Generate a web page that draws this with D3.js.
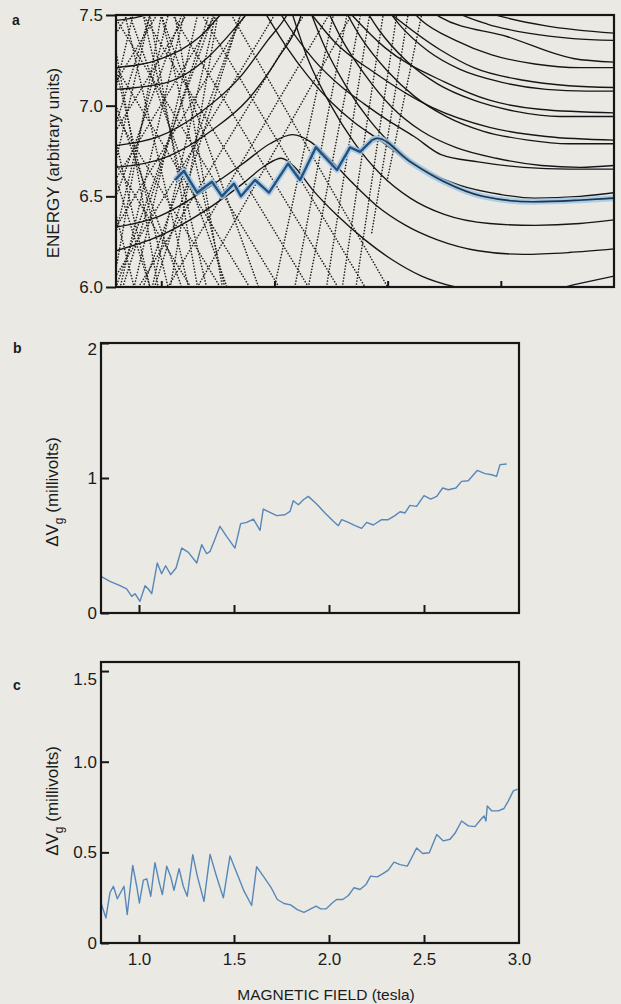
<!DOCTYPE html>
<html><head><meta charset="utf-8">
<script src="https://cdn.jsdelivr.net/npm/d3@7"></script>
<style>
html,body{margin:0;padding:0;background:#eae9e4;}
svg{display:block;}
text{font-family:"Liberation Sans",Arial,Helvetica,sans-serif;fill:#1b1b1b;}
</style></head><body>
<svg id="fig" width="621" height="1004"></svg>
<script>
// ---------- data ----------
const fieldTicks = [1.0, 1.5, 2.0, 2.5];
const fieldTickLabels = [1.0, 1.5, 2.0, 2.5, 3.0];
const energyTicks = [6.0, 6.5, 7.0, 7.5];
const gateTicksB = [0, 1, 2];
const gateTicksC = [0, 0.5, 1.0, 1.5];

// (a) lowest-Landau-level states (solid), [field, energy] points
const levelsSolid = [
  [[0.80,7.47],[0.90,7.49],[1.00,7.53]],
  [[0.80,7.21],[1.00,7.26],[1.17,7.38],[1.26,7.50],[1.30,7.56]],
  [[0.80,7.09],[1.03,7.13],[1.20,7.26],[1.32,7.42],[1.38,7.51],[1.41,7.56]],
  [[0.80,6.78],[0.99,6.83],[1.17,6.96],[1.35,7.16],[1.47,7.36],[1.555,7.50],[1.58,7.56]],
  [[0.80,6.66],[1.03,6.72],[1.23,6.87],[1.38,7.03],[1.52,7.27],[1.61,7.47],[1.63,7.55]],
  [[0.80,6.33],[0.99,6.39],[1.21,6.55],[1.36,6.68],[1.48,6.79],[1.58,6.84],[1.66,6.80],[1.74,6.71],
   [1.84,6.58],[1.95,6.45],[2.08,6.34],[2.22,6.26],[2.40,6.20],[2.60,6.18],[2.80,6.19],[3.00,6.21]],
  [[0.80,6.20],[0.99,6.28],[1.18,6.41],[1.36,6.57],[1.46,6.67],[1.53,6.71],[1.59,6.66],[1.666,6.54],
   [1.781,6.39],[1.90,6.26],[2.02,6.15],[2.15,6.06],[2.30,6.00],[2.50,5.97],[2.70,5.98],[2.85,6.02],[3.00,6.06]],
  [[1.55,7.62],[1.65,7.25],[1.75,7.00],[1.85,6.80],[1.97,6.62],[2.10,6.49],[2.25,6.40],[2.45,6.35],[2.65,6.34],[2.85,6.35],[3.00,6.37]],
  [[1.62,7.65],[1.72,7.33],[1.82,7.10],[1.92,6.92],[2.04,6.76],[2.17,6.64],[2.32,6.56],[2.50,6.51],[2.65,6.49],[2.85,6.50],[3.00,6.52]],
  [[1.70,7.62],[1.80,7.36],[1.90,7.17],[2.02,6.99],[2.15,6.86],[2.30,6.77],[2.48,6.71],[2.68,6.67],[2.85,6.66],[3.00,6.67]],
  [[1.78,7.60],[1.88,7.38],[2.00,7.19],[2.12,7.05],[2.26,6.94],[2.42,6.86],[2.62,6.81],[2.80,6.79],[3.00,6.79]],
  [[1.86,7.62],[1.96,7.42],[2.08,7.25],[2.22,7.12],[2.38,7.03],[2.56,6.97],[2.76,6.94],[3.00,6.94]],
  [[1.94,7.64],[2.05,7.45],[2.18,7.30],[2.32,7.20],[2.50,7.13],[2.70,7.09],[2.88,7.08],[3.00,7.08]],
  [[2.04,7.62],[2.15,7.47],[2.30,7.36],[2.46,7.28],[2.65,7.23],[2.85,7.21],[3.00,7.21]],
  [[2.14,7.66],[2.28,7.53],[2.44,7.45],[2.62,7.40],[2.82,7.37],[3.00,7.36]],
  [[1.45,7.53],[1.55,7.33],[1.65,7.16],[1.75,7.02],[1.85,6.91],[1.953,6.82],[2.10,6.69],[2.25,6.58],[2.42,6.50],[2.64,6.47],[2.86,6.48],[3.00,6.49]],
  [[1.50,7.56],[1.53,7.50],[1.676,7.25],[1.80,7.10],[1.896,7.01],[2.00,6.92],[2.117,6.83],[2.236,6.73],[2.40,6.69],[2.60,6.66],[2.80,6.65],[3.00,6.65]],
  [[1.64,7.54],[1.666,7.50],[1.767,7.35],[1.944,7.18],[2.196,6.99],[2.45,6.88],[2.70,6.83],[3.00,6.81]],
  [[1.82,7.53],[1.842,7.50],[1.988,7.32],[2.253,7.13],[2.45,7.03],[2.67,6.98],[3.00,6.96]],
  [[1.98,7.54],[2.00,7.52],[2.23,7.31],[2.38,7.21],[2.60,7.14],[2.80,7.11],[3.00,7.10]],
  [[2.20,7.52],[2.23,7.49],[2.53,7.38],[2.82,7.26],[3.00,7.24]],
  [[2.40,7.53],[2.45,7.51],[2.70,7.44],[3.00,7.40]]
];

// (a) higher-Landau-level states (dotted)
const levelsDotted = [
  [[0.12,6.0],[0.85,7.5]],[[0.25,6.0],[0.98,7.5]],[[0.38,6.0],[1.11,7.5]],
  [[0.51,6.0],[1.24,7.5]],[[0.64,6.0],[1.37,7.5]],[[0.77,6.0],[1.50,7.5]],
  [[0.90,6.0],[1.63,7.5]],[[1.03,6.0],[1.74,7.5]],[[1.16,6.0],[1.84,7.5]],
  [[0.40,7.5],[1.13,6.0]],[[0.53,7.5],[1.26,6.0]],[[0.66,7.5],[1.39,6.0]],
  [[0.79,7.5],[1.52,6.0]],[[0.92,7.5],[1.65,6.0]],[[1.05,7.5],[1.78,6.0]],
  [[1.18,7.5],[1.90,6.0]],[[1.31,7.5],[2.00,6.0]],
  [[1.50,6.0],[1.76,7.5]],[[1.59,6.0],[1.82,7.5]],[[1.65,6.0],[1.88,7.5]],
  [[1.73,6.0],[1.92,7.5]],[[1.80,6.0],[1.98,7.5]],[[1.86,6.0],[2.04,7.5]],
  [[1.93,6.3],[2.09,7.5]],[[2.00,6.6],[2.15,7.5]],
  [[0.80,7.1],[0.875,7.5]],[[0.80,6.7],[0.95,7.5]],[[0.80,6.3],[1.03,7.5]],
  [[0.80,5.9],[1.10,7.5]],[[0.88,6.0],[1.16,7.5]],[[0.96,6.0],[1.24,7.5]],
  [[0.80,6.4],[0.88,6.0]],[[0.80,6.8],[0.95,6.0]],[[0.80,7.2],[1.03,6.0]],
  [[0.84,7.5],[1.12,6.0]],[[0.92,7.5],[1.20,6.0]],[[1.00,7.5],[1.28,6.0]],
  [[0.80,6.5],[1.09,7.5]],[[0.80,6.0],[1.23,7.5]],[[0.92,6.0],[1.35,7.5]],
  [[0.80,7.0],[1.09,6.0]],[[0.86,7.5],[1.29,6.0]],[[1.00,7.5],[1.43,6.0]],
  [[0.80,6.9],[0.95,7.5]],[[0.83,6.0],[1.21,7.5]],[[0.97,6.0],[1.35,7.5]],
  [[0.80,6.6],[0.95,6.0]],[[0.80,7.3],[0.986,6.0]],[[0.95,7.5],[1.16,6.0]],
  [[0.80,6.1],[1.00,7.5]],[[1.04,6.0],[1.25,7.5]],[[1.06,7.5],[1.27,6.0]]
];

// (a) energy of the N-th electron
const nthLevel = [[1.061,6.59],[1.10,6.64],[1.158,6.52],[1.224,6.58],[1.268,6.50],[1.321,6.57],
  [1.352,6.50],[1.414,6.59],[1.476,6.52],[1.560,6.68],[1.613,6.59],[1.683,6.77],[1.776,6.645],
  [1.834,6.77],[1.878,6.745],[1.931,6.81],[1.953,6.82],[2.10,6.69],[2.25,6.58],
  [2.42,6.50],[2.64,6.47],[2.86,6.48],[3.0,6.49]];

// (b) measured peak spacing
const fieldB = [0.800,0.847,0.900,0.935,0.962,0.979,1.005,1.032,1.049,1.067,1.096,1.119,1.140,1.167,1.195,
  1.225,1.260,1.304,1.330,1.356,1.374,1.400,1.426,1.461,1.505,1.535,1.567,1.602,1.637,1.654,1.689,1.725,
  1.768,1.795,1.812,1.839,1.865,1.891,1.935,1.979,2.023,2.049,2.067,2.102,2.137,2.172,2.198,2.233,2.277,
  2.312,2.347,2.374,2.400,2.426,2.461,2.500,2.535,2.567,2.598,2.628,2.668,2.698,2.733,2.780,2.821,2.856,
  2.882,2.900,2.935];
const gateB = [0.271,0.234,0.202,0.178,0.123,0.143,0.086,0.202,0.178,0.143,0.370,0.291,0.350,0.284,0.333,
  0.481,0.449,0.370,0.506,0.439,0.456,0.548,0.642,0.568,0.481,0.662,0.671,0.696,0.612,0.770,0.745,0.721,
  0.728,0.753,0.832,0.802,0.839,0.864,0.807,0.741,0.679,0.647,0.691,0.671,0.647,0.627,0.671,0.652,0.691,
  0.691,0.721,0.750,0.741,0.797,0.790,0.869,0.844,0.864,0.926,0.913,0.926,0.975,0.980,1.056,1.032,1.024,
  1.012,1.099,1.104];

// (c) calculated peak spacing
const fieldC = [0.800,0.826,0.847,0.865,0.886,0.904,0.921,0.938,0.967,0.988,1.002,1.023,1.041,1.062,1.084,
  1.107,1.123,1.146,1.167,1.184,1.211,1.233,1.254,1.283,1.307,1.342,1.374,1.405,1.444,1.479,1.511,1.553,
  1.593,1.619,1.654,1.693,1.728,1.763,1.798,1.833,1.868,1.904,1.932,1.956,1.984,2.014,2.040,2.072,2.102,
  2.132,2.163,2.195,2.219,2.254,2.286,2.312,2.342,2.374,2.412,2.440,2.461,2.493,2.528,2.567,2.602,2.637,
  2.663,2.698,2.733,2.768,2.803,2.816,2.826,2.833,2.856,2.891,2.921,2.944,2.970,2.993];
const gateC = [0.221,0.138,0.277,0.313,0.244,0.280,0.313,0.157,0.428,0.313,0.221,0.347,0.354,0.258,0.443,
  0.332,0.267,0.424,0.365,0.291,0.410,0.313,0.258,0.487,0.369,0.230,0.489,0.378,0.249,0.480,0.396,0.286,
  0.207,0.421,0.369,0.310,0.240,0.218,0.210,0.184,0.169,0.188,0.203,0.188,0.188,0.218,0.240,0.240,0.262,
  0.305,0.295,0.323,0.369,0.365,0.384,0.402,0.446,0.432,0.424,0.480,0.524,0.494,0.498,0.598,0.563,0.572,
  0.605,0.673,0.646,0.642,0.687,0.701,0.673,0.756,0.729,0.729,0.742,0.784,0.839,0.849];

// ---------- drawing ----------
const svg = d3.select("#fig");
const ink = "#161616";
const trace = "#5787b8";

function frame(g, x0, x1, y0, y1) {
  g.append("rect").attr("x", x0).attr("y", y0).attr("width", x1 - x0).attr("height", y1 - y0)
    .attr("fill", "none").attr("stroke", ink).attr("stroke-width", 2.2);
}
function styleAxis(g) {
  g.select(".domain").remove();
  g.selectAll(".tick line").attr("stroke", ink).attr("stroke-width", 2);
  g.selectAll(".tick text").attr("font-size", 17).attr("fill", "#1b1b1b")
    .attr("font-family", '"Liberation Sans", Arial, sans-serif');
}
function panelLetter(x, y, s) {
  svg.append("text").attr("x", x).attr("y", y).attr("font-size", 14).attr("font-weight", "bold").text(s);
}
function yTitle(x, yc, sub) {
  const t = svg.append("text").attr("transform", `translate(${x},${yc}) rotate(-90)`)
    .attr("text-anchor", "middle").attr("font-size", 17);
  if (sub) {
    t.append("tspan").text("\u0394V");
    t.append("tspan").attr("font-size", 12).attr("dy", 5).text("g");
    t.append("tspan").attr("dy", -5).text("  (millivolts)");
  } else {
    t.text("ENERGY (arbitrary units)");
  }
}

// ----- panel a -----
const ax = d3.scaleLinear().domain([0.8, 3.0]).range([116, 614]);
const ay = d3.scaleLinear().domain([6.0, 7.5]).range([287, 15]);
svg.append("clipPath").attr("id", "clipA").append("rect")
  .attr("x", 116).attr("y", 15).attr("width", 498).attr("height", 272);
const gA = svg.append("g").attr("clip-path", "url(#clipA)");
const lineA = d3.line().x(d => ax(d[0])).y(d => ay(d[1])).curve(d3.curveMonotoneX);
const lineAstraight = d3.line().x(d => ax(d[0])).y(d => ay(d[1]));

gA.selectAll("path.dot").data(levelsDotted).join("path").attr("class", "dot")
  .attr("d", lineA).attr("fill", "none").attr("stroke", "#222").attr("stroke-width", 1.6)
  .attr("stroke-linecap", "round").attr("stroke-dasharray", "0.1 2.9");
gA.selectAll("path.solid").data(levelsSolid).join("path").attr("class", "solid")
  .attr("d", lineA).attr("fill", "none").attr("stroke", ink).attr("stroke-width", 1.35);

const zig = nthLevel.filter(d => d[0] <= 1.953);
const tail = nthLevel.filter(d => d[0] >= 1.931);
[[zig, lineAstraight, 1], [tail, lineA, 0]].forEach(([pts, gen, core]) => {
  gA.append("path").attr("d", gen(pts)).attr("fill", "none").attr("stroke", "#9cc3e4")
    .attr("stroke-width", 6).attr("stroke-opacity", 0.8).attr("stroke-linejoin", "round");
  gA.append("path").attr("d", gen(pts)).attr("fill", "none").attr("stroke", core ? "#24527f" : "#1d3550")
    .attr("stroke-width", core ? 2.4 : 1.6).attr("stroke-linejoin", "round");
});
frame(svg, 116, 614, 15, 287);
svg.append("g").attr("transform", "translate(116,0)")
  .call(d3.axisLeft(ay).tickValues(energyTicks).tickSize(10).tickPadding(3).tickFormat(d3.format(".1f")))
  .call(styleAxis);
svg.append("g").attr("transform", "translate(0,287)")
  .call(d3.axisBottom(ax).tickValues(fieldTicks).tickSize(-6).tickFormat(""))
  .call(styleAxis);
panelLetter(12, 25, "a");
yTitle(59, 163, false);

// ----- panel b -----
const bx = d3.scaleLinear().domain([0.8, 3.0]).range([101, 519]);
const by = d3.scaleLinear().domain([0, 2]).range([613, 343]);
const lineB = d3.line().x((d, i) => bx(fieldB[i])).y(d => by(d));
svg.append("path").attr("d", lineB(gateB)).attr("fill", "none").attr("stroke", trace)
  .attr("stroke-width", 1.4).attr("stroke-linejoin", "round");
frame(svg, 101, 519, 343, 613);
svg.append("g").attr("transform", "translate(101,0)")
  .call(d3.axisLeft(by).tickValues(gateTicksB).tickSize(-8).tickPadding(4).tickFormat(d3.format("d")))
  .call(styleAxis)
  .call(g => g.selectAll(".tick").filter(d => d === 2).select("text").attr("dy", "0.65em"));
svg.append("g").attr("transform", "translate(0,613)")
  .call(d3.axisBottom(bx).tickValues(fieldTicks).tickSize(-8).tickFormat(""))
  .call(styleAxis);
panelLetter(13, 353, "b");
yTitle(58, 492, true);

// ----- panel c -----
const cx = d3.scaleLinear().domain([0.8, 3.0]).range([101, 519]);
const cy = d3.scaleLinear().domain([0, 1.55]).range([943, 662]);
const lineC = d3.line().x((d, i) => cx(fieldC[i])).y(d => cy(d));
svg.append("path").attr("d", lineC(gateC)).attr("fill", "none").attr("stroke", trace)
  .attr("stroke-width", 1.4).attr("stroke-linejoin", "round");
frame(svg, 101, 519, 662, 943);
svg.append("g").attr("transform", "translate(101,0)")
  .call(d3.axisLeft(cy).tickValues(gateTicksC).tickSize(-8).tickPadding(4)
    .tickFormat(d => d === 0 ? "0" : d3.format(".1f")(d)))
  .call(styleAxis)
  .call(g => g.selectAll(".tick").filter(d => d === 1.5).select("text").attr("dy", "0.8em"));
svg.append("g").attr("transform", "translate(0,943)")
  .call(d3.axisBottom(cx).tickValues(fieldTickLabels).tickSize(-8).tickPadding(10).tickFormat(d3.format(".1f")))
  .call(styleAxis)
  .call(g => g.selectAll(".tick line").filter(d => d === 3.0).remove());
panelLetter(13, 690, "c");
yTitle(58, 801, true);

svg.append("text").attr("x", 326).attr("y", 1000).attr("text-anchor", "middle")
  .attr("font-size", 15.5).text("MAGNETIC FIELD (tesla)");
</script>
</body></html>
